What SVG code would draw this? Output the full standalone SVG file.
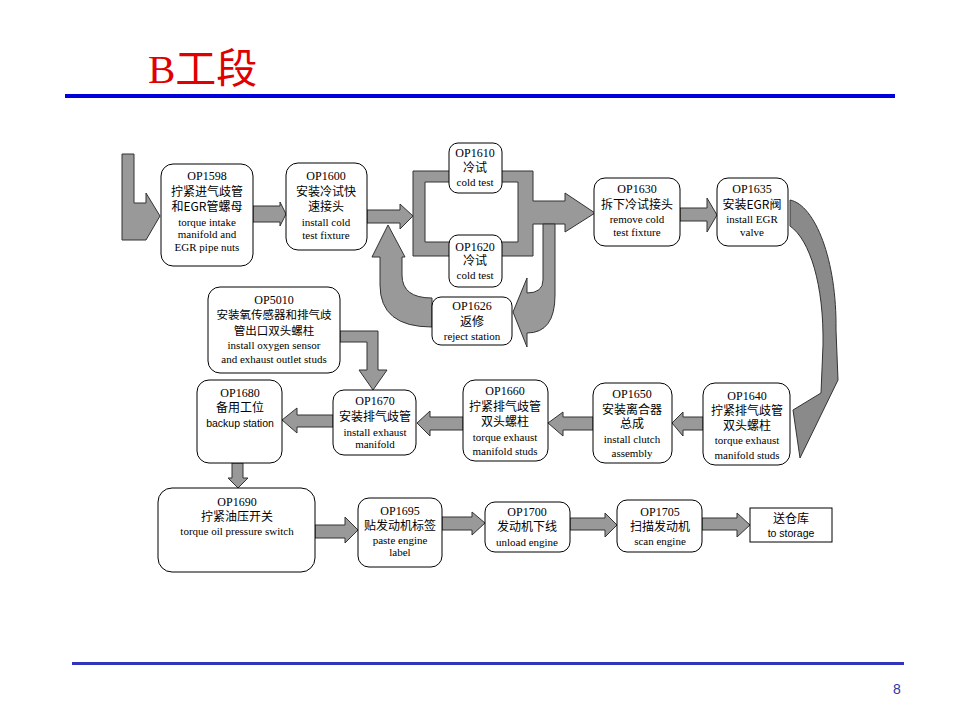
<svg xmlns="http://www.w3.org/2000/svg" width="960" height="720" viewBox="0 0 960 720">
<style>
.box{fill:#fff;stroke:#000;stroke-width:1}
.arr{fill:#999;stroke:#333;stroke-width:1;stroke-linejoin:miter}
text{text-anchor:middle;fill:#000}
.op{font-family:"Liberation Serif",serif;font-size:12px}
.en{font-family:"Liberation Serif",serif;font-size:11px}
.ens{font-family:"Liberation Sans",sans-serif;font-size:10.5px}
.cn{font-family:"Noto Sans CJK SC",sans-serif;font-size:12px}
.cn2{font-family:"Noto Sans CJK SC",sans-serif;font-size:11.5px}
</style>
<rect width="960" height="720" fill="#fff"/>
<text x="148" y="83" style="text-anchor:start;fill:#e00000;font-family:'Liberation Serif','Noto Sans CJK SC',serif;font-size:41px">B工段</text>
<rect x="65" y="94" width="830" height="4" fill="#0000dd"/>
<rect x="72" y="662" width="832" height="3" fill="#3333bb"/>
<text x="897" y="694" style="fill:#3333aa;font-family:'Liberation Sans',sans-serif;font-size:14px">8</text>

<g id="connectors">
<polygon class="arr" points="122,154 134,154 134,203 146,203 146,193 160,216 146,240 122,240"/>
<polygon class="arr" points="253,206 280,206 280,202 286,214 280,226 280,222 253,222"/>
<polygon class="arr" points="367,210 400,210 400,204 413,216 400,229 400,223 367,223"/>
<path class="arr" fill-rule="evenodd" d="M413,171 L533,171 L533,201 L565,201 L565,193 L595,213 L565,232 L565,224 L533,224 L533,256 L413,256 Z M425,182 L518,182 L518,242 L425,242 Z"/>
<path class="arr" d="M543,224 L555,224 L555,295 Q555,333 527,333 L527,347 L513,312 L527,278 L527,293 Q543,293 543,280 Z"/>
<path class="arr" d="M432,298 Q402,298 402,275 L402,257 L405,257 L388,225 L372,257 L380,257 L380,285 Q380,327 432,327 Z"/>
<polygon class="arr" points="680,208 707,208 707,198 717,215 707,232 707,221 680,221"/>
<path class="arr" style="fill:#8a8a8a" d="M790,200 C815,205 837,260 836,330 L838,380 L800,458 L793,410 L821,393 L823,345 C824,285 810,240 790,226 Z"/>
<polygon class="arr" points="703,417 683,417 683,412 672,423 683,436 683,430 703,430"/>
<polygon class="arr" points="593,417 563,417 563,412 548,423 563,436 563,430 593,430"/>
<polygon class="arr" points="463,417 430,417 430,411 417,423 430,436 430,430 463,430"/>
<polygon class="arr" points="333,415 297,415 297,408 282,420 297,433 297,427 333,427"/>
<polygon class="arr" points="340,331 378,331 378,370 387,370 373,390 359,370 367,370 367,342 340,342"/>
<polygon class="arr" points="232,463 243,463 243,478 248,478 238,488 228,478 232,478"/>
<polygon class="arr" points="315,525 345,525 345,517 358,530 345,543 345,538 315,538"/>
<polygon class="arr" points="442,517 472,517 472,512 485,523 472,535 472,530 442,530"/>
<polygon class="arr" points="570,518 605,518 605,513 617,525 605,537 605,530 570,530"/>
<polygon class="arr" points="702,518 737,518 737,513 750,525 737,537 737,530 702,530"/>
</g>

<g id="op1598"><rect class="box" x="161" y="164" width="92" height="102" rx="12"/>
<text class="op" x="207" y="180">OP1598</text><text class="cn" x="207" y="196">拧紧进气歧管</text><text class="cn" x="207" y="211">和EGR管螺母</text><text class="en" x="207" y="226">torque intake</text><text class="en" x="207" y="238">manifold and</text><text class="en" x="207" y="251">EGR pipe nuts</text></g>

<g id="op1600"><rect class="box" x="286" y="163" width="81" height="87" rx="12"/>
<text class="op" x="326" y="180">OP1600</text><text class="cn" x="326" y="196">安装冷试快</text><text class="cn" x="326" y="211">速接头</text><text class="en" x="326" y="226">install cold</text><text class="en" x="326" y="239">test fixture</text></g>

<g id="op1610"><rect class="box" x="449" y="143" width="53" height="50" rx="9"/>
<text class="op" x="475" y="157">OP1610</text><text class="cn" x="475" y="172">冷试</text><text class="en" x="475" y="186">cold test</text></g>

<g id="op1620"><rect class="box" x="449" y="235" width="53" height="52" rx="9"/>
<text class="op" x="475" y="251">OP1620</text><text class="cn" x="475" y="265">冷试</text><text class="en" x="475" y="279">cold test</text></g>

<g id="op1626"><rect class="box" x="432" y="297" width="80" height="48" rx="9"/>
<text class="op" x="472" y="310">OP1626</text><text class="cn" x="472" y="326">返修</text><text class="en" x="472" y="340">reject station</text></g>

<g id="op1630"><rect class="box" x="594" y="178" width="86" height="68" rx="11"/>
<text class="op" x="637" y="193">OP1630</text><text class="cn" x="637" y="209">拆下冷试接头</text><text class="en" x="637" y="223">remove cold</text><text class="en" x="637" y="236">test fixture</text></g>

<g id="op1635"><rect class="box" x="717" y="178" width="71" height="68" rx="11"/>
<text class="op" x="752" y="193">OP1635</text><text class="cn" x="752" y="209">安装EGR阀</text><text class="en" x="752" y="223">install EGR</text><text class="en" x="752" y="236">valve</text></g>

<g id="op1640"><rect class="box" x="703" y="383" width="87" height="82" rx="12"/>
<text class="op" x="747" y="400">OP1640</text><text class="cn" x="747" y="415">拧紧排气歧管</text><text class="cn" x="747" y="430">双头螺柱</text><text class="en" x="747" y="444">torque exhaust</text><text class="en" x="747" y="459">manifold studs</text></g>

<g id="op1650"><rect class="box" x="593" y="383" width="79" height="80" rx="12"/>
<text class="op" x="632" y="398">OP1650</text><text class="cn" x="632" y="414">安装离合器</text><text class="cn" x="632" y="428">总成</text><text class="en" x="632" y="443">install clutch</text><text class="en" x="632" y="457">assembly</text></g>

<g id="op1660"><rect class="box" x="463" y="380" width="85" height="81" rx="12"/>
<text class="op" x="505" y="395">OP1660</text><text class="cn" x="505" y="411">拧紧排气歧管</text><text class="cn" x="505" y="426">双头螺柱</text><text class="en" x="505" y="441">torque exhaust</text><text class="en" x="505" y="455">manifold studs</text></g>

<g id="op1670"><rect class="box" x="333" y="390" width="83" height="65" rx="11"/>
<text class="op" x="375" y="405">OP1670</text><text class="cn" x="375" y="421">安装排气歧管</text><text class="en" x="375" y="436">install exhaust</text><text class="en" x="375" y="448">manifold</text></g>

<g id="op1680"><rect class="box" x="197" y="380" width="85" height="83" rx="12"/>
<text class="op" x="240" y="397">OP1680</text><text class="cn" x="240" y="412">备用工位</text><text class="ens" x="240" y="427">backup station</text></g>

<g id="op5010"><rect class="box" x="208" y="287" width="132" height="86" rx="12"/>
<text class="op" x="274" y="304">OP5010</text><text class="cn2" x="274" y="319">安装氧传感器和排气歧</text><text class="cn2" x="274" y="335">管出口双头螺柱</text><text class="en" x="274" y="349">install oxygen sensor</text><text class="en" x="274" y="363">and exhaust outlet studs</text></g>

<g id="op1690"><rect class="box" x="158" y="488" width="157" height="84" rx="14"/>
<text class="op" x="237" y="506">OP1690</text><text class="cn" x="237" y="521">拧紧油压开关</text><text class="en" x="237" y="535">torque oil pressure switch</text></g>

<g id="op1695"><rect class="box" x="358" y="498" width="84" height="69" rx="11"/>
<text class="op" x="400" y="515">OP1695</text><text class="cn" x="400" y="530">贴发动机标签</text><text class="en" x="400" y="544">paste engine</text><text class="en" x="400" y="556">label</text></g>

<g id="op1700"><rect class="box" x="485" y="502" width="85" height="50" rx="10"/>
<text class="op" x="527" y="516">OP1700</text><text class="cn" x="527" y="531">发动机下线</text><text class="en" x="527" y="546">unload engine</text></g>

<g id="op1705"><rect class="box" x="617" y="500" width="85" height="52" rx="10"/>
<text class="op" x="660" y="516">OP1705</text><text class="cn" x="660" y="531">扫描发动机</text><text class="en" x="660" y="545">scan engine</text></g>

<g id="storage"><rect class="box" x="750" y="508" width="82" height="34"/>
<text class="cn" x="791" y="523">送仓库</text><text class="ens" x="791" y="537">to storage</text></g>
</svg>
